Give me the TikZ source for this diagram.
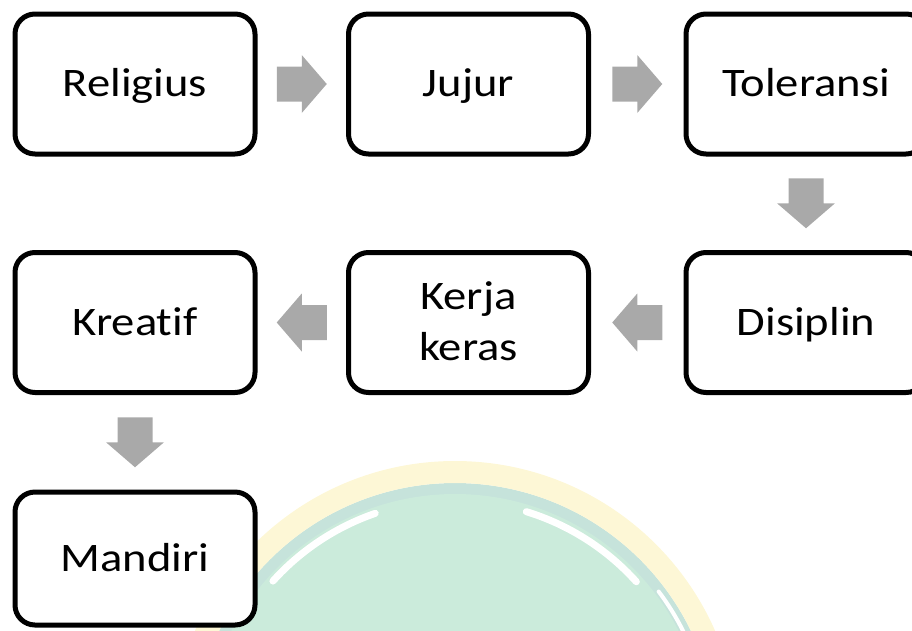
\documentclass[tikz,border=0pt]{standalone}
\usepackage{fontspec}
\setmainfont{Carlito}[FakeStretch=1.15, Ligatures=NoCommon]
\usetikzlibrary{calc}
\definecolor{arrowgray}{HTML}{A9A9A9}
\definecolor{wmyellow}{HTML}{FDF7D6}
\definecolor{wmband}{HTML}{C6E3DB}
\definecolor{wmgreen}{HTML}{CBEBDB}
\begin{document}
\begin{tikzpicture}[x=1pt,y=-1pt,
  box/.style={draw=black, line width=5pt, rounded corners=20pt, fill=white,
    minimum width=240pt, minimum height=140pt, inner sep=0pt,
    font=\fontsize{40.5}{49.5}\selectfont, text height=25.6pt, text depth=0pt},
  lbl/.style={font=\fontsize{40.5}{49.5}\selectfont, anchor=base, inner sep=0pt},
  blockarrow/.pic={\fill[arrowgray] (-25,-17.5) -- (0,-17.5) -- (0,-29) -- (25,0)
    -- (0,29) -- (0,17.5) -- (-25,17.5) -- cycle;}
]
\useasboundingbox (0,0) rectangle (912,630);
\begin{scope}
\clip (0,0) rectangle (912,630);
% watermark
\coordinate (wm) at (455,745);
\fill[wmband] (wm) circle (262);
\draw[wmyellow, line width=22pt] (wm) circle (273);
\fill[wmgreen] (wm) circle (251);
\draw[white, line width=7pt, line cap=round] ($(wm)+(222:245)$) arc[start angle=222, end angle=251, radius=245];
\draw[white, line width=7pt, line cap=round] ($(wm)+(287:244)$) arc[start angle=287, end angle=318, radius=244];
\draw[white, line width=4pt, line cap=round] ($(wm)+(323:255)$) arc[start angle=323, end angle=334, radius=255];

% boxes
\node[box] (rel) at (135,84) {Religius};
\node[box] (juj) at (468.5,84) {Jujur};
\node[box] (tol) at (806,84) {Toleransi};
\node[box] (dis) at (806,322.5) {Disiplin};
\node[box] (kk) at (468.5,322.5) {};
\node[lbl] (kk1) at ($(kk.center)+(0,-12.6)$) {Kerja};
\node[lbl] (kk2) at ($(kk.center)+(0,38.4)$) {keras};
\node[box] (kre) at (135,322.5) {Kreatif};
\node[box, minimum height=133pt] (man) at (135,558.5) {Mandiri};

% block arrows
\pic at ($(rel.east)!0.5!(juj.west)$) {blockarrow};
\pic at ($(juj.east)!0.5!(tol.west)$) {blockarrow};
\pic[rotate=-90] at ($(tol.south)!0.5!(dis.north)$) {blockarrow};
\pic[rotate=180] at ($(dis.west)!0.5!(kk.east)$) {blockarrow};
\pic[rotate=180] at ($(kk.west)!0.5!(kre.east)$) {blockarrow};
\pic[rotate=-90] at ($(kre.south)!0.5!(man.north)$) {blockarrow};
\end{scope}
\end{tikzpicture}
\end{document}
